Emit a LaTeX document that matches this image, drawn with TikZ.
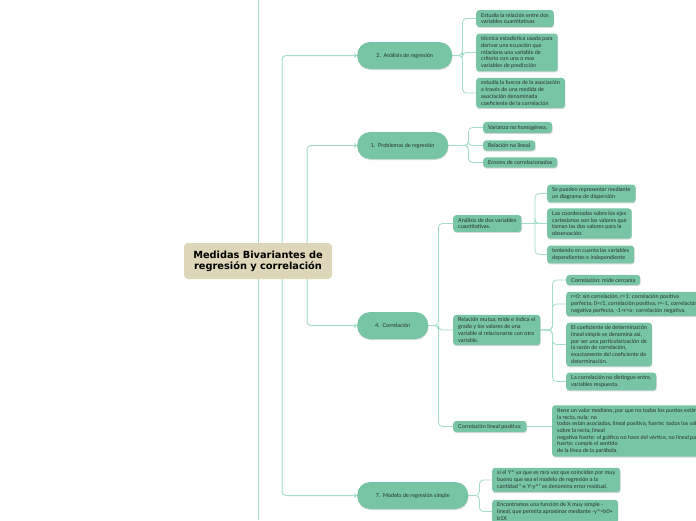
\documentclass[tikz,border=0pt]{standalone}
\usepackage{fontspec}
\setmainfont{Lato}
\newfontfamily\rootfont{DejaVu Sans}
\usepackage{tikz}
\usetikzlibrary{arrows.meta,shadows,backgrounds}

\definecolor{leafgreen}{RGB}{119,197,165}
\definecolor{linkgreen}{RGB}{163,221,201}
\definecolor{rootbeige}{RGB}{221,214,184}
\definecolor{inkgray}{RGB}{38,48,44}

\begin{document}
\begin{tikzpicture}[
            x=1pt, y=-1pt,
            font=\fontsize{5.5}{6.7}\selectfont,
            link/.style={draw=linkgreen, line width=0.8pt, rounded corners=4pt},
            branch/.style={link, line width=1pt, -{Straight Barb[length=2pt,width=4pt]}},
            lift/.style={drop shadow={shadow xshift=0.4pt, shadow yshift=-1pt, opacity=0.25, fill=black!60}},
            root/.style={fill=rootbeige, text=black, rounded corners=4pt, minimum width=148pt,
                minimum height=36pt, align=center, font=\rootfont\bfseries\fontsize{9.8}{11}\selectfont},
            topic/.style={fill=leafgreen, text=inkgray, rounded corners=13pt, minimum height=27pt,
                inner sep=0pt, anchor=west, lift},
            leaf/.style={fill=leafgreen, text=inkgray, rounded corners=3pt, anchor=west, align=left,
                inner xsep=5pt, inner ysep=3pt, lift}
        ]
            \useasboundingbox (0,0) rectangle (696,520);
            \clip (0,0) rectangle (696,520);

            % central topic
            \node[root] (root) at (258,261) {Medidas Bivariantes de\\regresión y correlación};

            % main topics
            \node[topic, minimum width=95pt] (analisis) at (357,55.5) {2.\ \ Análisis de regresión};
            \node[topic, minimum width=91pt] (problemas) at (357,145.5) {1.\ \ Problemas de regresión};
            \node[topic, minimum width=71pt] (correlacion) at (357,325.5) {4.\ \ Correlación};
            \node[topic, minimum width=111pt] (modelo) at (357,495.5) {7.\ \ Modelo de regresión simple};

            % 2. analisis
            \node[leaf] (a1) at (476,18.5) {Estudia la relación entre dos\\variables cuantitativas};
            \node[leaf] (a2) at (476,52.5) {técnica estadística usada para\\derivar una ecuación que\\relaciona una variable de\\criterio con una o mas\\variables de predicción};
            \node[leaf] (a3) at (476,93) {estudia la fuerza de la asociación\\a través de una medida de\\asociación denominada\\coeficiente de la correlación};

            % 1. problemas
            \node[leaf] (p1) at (483,127.5) {Varianza no homogénea.};
            \node[leaf] (p2) at (483,145.5) {Relación no lineal};
            \node[leaf] (p3) at (483,162.5) {Errores de correlacionados};

            % 4. correlacion
            \node[leaf] (c1) at (453,223.5) {Análisis de dos variables\\cuantitativas.};
            \node[leaf] (c2) at (453,330) {Relación mutua, mide e indica el\\grado y los valores de una\\variable al relacionarse con otra\\variable.};
            \node[leaf] (c3) at (453,426.5) {Correlación lineal positiva:};

            \node[leaf] (d1) at (547,193.5) {Se pueden representar mediante\\un diagrama de dispersión};
            \node[leaf] (d2) at (547,223.5) {Las coordenadas sobre los ejes\\cartesianos son los valores que\\toman las dos valores para la\\observación.};
            \node[leaf] (d3) at (547,254.5) {teniendo en cuenta las variables\\dependientes e independiente};

            \node[leaf] (r1) at (566,280) {Correlación: mide cercanía};
            \node[leaf] (r2) at (566,304) {r=0: sin correlación, r=1: correlación positiva\\perfecta, 0<r1, correlación positiva, r=-1, correlación\\negativa perfecta, -1<r<o: correlación negativa.};
            \node[leaf] (r3) at (566,344.5) {El coeficiente de determinación\\lineal simple se denomina así,\\por ser una particularización de\\la razón de correlación,\\exactamente del coeficiente de\\determinación.};
            \node[leaf] (r4) at (566,381.5) {La correlación no distingue entre,\\variables respuesta.};

            \node[leaf] (l1) at (552,431) {tiene un valor mediano, por que no todos los puntos están\\la recta, nula: no\\todos están asociados, lineal positiva, fuerte: todos los valores\\sobre la recta, lineal\\negativa fuerte: el gráfico no hace del vértice, no lineal para\\fuerte: cumple el sentido\\de la línea de la parábola.};

            % 7. modelo
            \node[leaf] (m1) at (492,480) {si el Y\textasciicircum{} ya que es rara vez que coincidan por muy\\bueno que sea el modelo de regresión a la\\cantidad "-e Y-y\textasciicircum" se denomina error residual.};
            \node[leaf] (m2) at (492,511.5) {Encontramos una función de X muy simple -\\lineal, que permita aproximar mediante -y\textasciicircum=b0+\\b1X};

            \begin{scope}[on background layer]
                % trunk behind the central topic
                \coordinate (top) at (258,0);
                \coordinate (bottom) at (258,520);
                \draw[link, line width=1pt] (top) -- (bottom);

                \foreach \topic/\off in {analisis/24, modelo/24, problemas/49, correlacion/49}
                    \draw[branch] ([xshift=\off pt]root.center) |- (\topic.west);

                % sub branches
                \foreach \kid in {a1,a2,a3}
                    \draw[link] (analisis.east) -- ++(10,0) |- (\kid.west);
                \foreach \kid in {p1,p2,p3}
                    \draw[link] (problemas.east) -- ++(20,0) |- (\kid.west);
                \foreach \kid in {c1,c2,c3}
                    \draw[link] (correlacion.east) -- ++(10,0) |- (\kid.west);
                \foreach \kid in {d1,d2,d3}
                    \draw[link] (c1.east) -- (c1.east -| d1.west) ++(-12,0) |- (\kid.west);
                \foreach \kid in {r1,r2,r3,r4}
                    \draw[link] (c2.east) -- ++(12,0) |- (\kid.west);
                \draw[link] (c3.east) -- (c3.east -| l1.west);
                \foreach \kid in {m1,m2}
                    \draw[link] (modelo.east) -- ++(11,0) |- (\kid.west);
            \end{scope}
        \end{tikzpicture}
\end{document}
